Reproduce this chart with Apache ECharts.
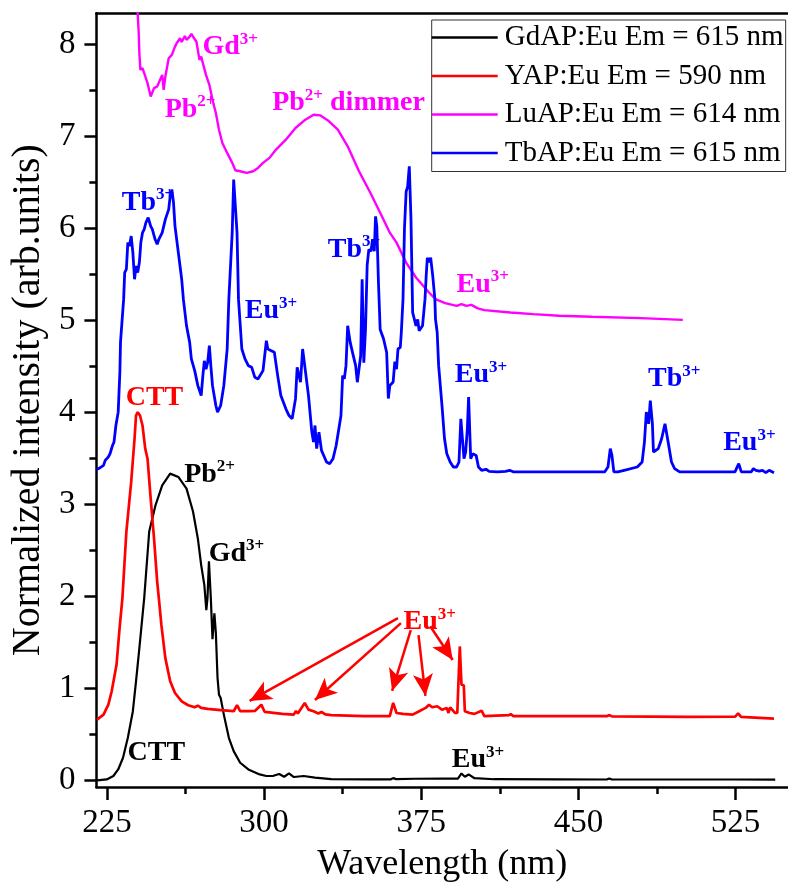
<!DOCTYPE html>
<html><head><meta charset="utf-8">
<script src="https://cdn.jsdelivr.net/npm/echarts@6/dist/echarts.min.js"></script>
<style>html,body{margin:0;padding:0;background:#fff}#c{width:788px;height:888px}</style>
</head><body><div id="c"></div>
<script>
const FONT = '"Liberation Serif","Times New Roman",serif';
const xTicks = [225, 300, 375, 450, 525];
const xMinorTicks = [262.5, 337.5, 412.5, 487.5];
const yTicks = [0, 1, 2, 3, 4, 5, 6, 7, 8];
const yMinorTicks = [0.5, 1.5, 2.5, 3.5, 4.5, 5.5, 6.5, 7.5];
const seriesNames = ['GdAP:Eu Em = 615 nm', 'YAP:Eu Em = 590 nm', 'LuAP:Eu Em = 614 nm', 'TbAP:Eu Em = 615 nm'];
const seriesColors = ['#000000', '#ff0000', '#ff00ff', '#0000ff'];

const gdapData = [[220.3,0.0],[224.9,0.011],[228.1,0.048],[230.4,0.119],[232.7,0.246],[235.0,0.463],[237.4,0.752],[238.9,1.077],[240.5,1.438],[242.8,1.979],[245.2,2.705],[248.2,2.99],[251.4,3.207],[255.2,3.334],[259.1,3.298],[263.0,3.171],[266.1,2.922],[268.4,2.629],[270.0,2.34],[271.5,2.124],[272.45,1.85],[273.0,1.98],[273.7,2.38],[274.6,1.98],[275.4,1.535],[276.3,1.817],[277.0,1.6],[277.8,1.113],[278.5,0.932],[279.3,0.896],[280.8,0.715],[283.2,0.463],[285.5,0.318],[288.6,0.192],[292.5,0.119],[297.9,0.065],[301.1,0.048],[304.5,0.05],[307.2,0.07],[309.6,0.04],[311.9,0.076],[314.2,0.037],[318.9,0.048],[324.3,0.03],[332,0.015],[350,0.012],[360.5,0.012],[361.6,0.025],[363,0.014],[372,0.018],[385,0.02],[392.5,0.02],[394.2,0.076],[395.8,0.04],[397.6,0.065],[400.4,0.024],[409.7,0.013],[440,0.012],[463.5,0.01],[464.7,0.022],[466,0.01],[500,0.01],[525,0.01],[543.9,0.008]];

const yapData = [[220.3,0.661],[223.4,0.715],[225.7,0.823],[227.3,0.969],[229.6,1.257],[231.2,1.69],[232.4,1.979],[234.3,2.702],[236.6,3.244],[238.2,3.713],[238.9,3.965],[239.7,4.002],[240.8,3.965],[242.0,3.857],[243.3,3.605],[244.4,3.496],[245.9,3.063],[247.5,2.629],[249.0,2.16],[249.8,1.979],[251.0,1.69],[252.9,1.329],[255.2,1.077],[257.5,0.95],[260.7,0.86],[263.8,0.817],[266.9,0.795],[268.4,0.813],[270.0,0.788],[273.1,0.777],[279.3,0.763],[285.5,0.752],[287.1,0.817],[288.6,0.752],[293.3,0.752],[295.6,0.755],[298.7,0.823],[300.3,0.744],[308.8,0.723],[314.2,0.715],[315.2,0.755],[316.1,0.728],[319.4,0.842],[321.2,0.769],[323.6,0.752],[325.9,0.728],[327.4,0.744],[329.2,0.717],[332.1,0.709],[347.6,0.698],[360.0,0.698],[361.6,0.842],[363.2,0.733],[366.3,0.723],[370.9,0.715],[374.0,0.752],[377.1,0.788],[378.7,0.823],[380.2,0.795],[382.6,0.806],[384.9,0.769],[387.2,0.788],[388.0,0.733],[388.8,0.795],[391.1,0.733],[392.2,0.733],[393.4,1.456],[394.2,1.04],[395.3,1.034],[395.8,0.752],[398.1,0.733],[400.4,0.723],[403.8,0.758],[405.1,0.698],[416.7,0.709],[417.7,0.72],[419.0,0.698],[463.5,0.698],[464.8,0.71],[466,0.696],[502.7,0.69],[524.8,0.693],[526.2,0.728],[527.6,0.69],[543.3,0.672]];

const luapData = [[239.4,8.6],[239.7,8.336],[240.2,8.119],[240.5,7.902],[241.0,7.722],[242.0,7.74],[242.8,7.686],[244.4,7.577],[245.9,7.432],[247.5,7.523],[249.0,7.541],[249.8,7.559],[251.4,7.667],[252.1,7.505],[252.9,7.649],[254.5,7.848],[256.0,7.884],[257.5,7.974],[258.3,8.011],[259.9,8.065],[260.7,8.025],[262.2,8.09],[263.0,8.047],[264.5,8.082],[265.3,8.112],[266.6,8.065],[267.7,8.029],[269.2,7.83],[270.0,7.866],[270.8,7.794],[272.3,7.667],[273.9,7.559],[275.4,7.397],[277.0,7.252],[278.5,7.071],[280.1,6.927],[282.4,6.819],[284.8,6.711],[286.3,6.631],[288.6,6.62],[291.7,6.602],[294.8,6.62],[297.1,6.656],[299.5,6.711],[302.6,6.765],[305.7,6.855],[310.4,6.963],[315.0,7.09],[319.7,7.18],[323.6,7.234],[326.7,7.227],[330.5,7.172],[335.2,7.071],[339.9,6.891],[345.3,6.62],[350.7,6.386],[355.4,6.169],[360.0,5.952],[363.2,5.844],[367.8,5.627],[372.5,5.465],[378.7,5.302],[381.8,5.23],[386.4,5.186],[391.9,5.157],[394.2,5.175],[396.6,5.157],[398.9,5.168],[402.0,5.129],[405.1,5.11],[417.5,5.085],[428.4,5.067],[440.8,5.049],[456.4,5.038],[479.7,5.024],[499.8,5.005]];

const tbapData = [[220.1,3.38],[221.1,3.389],[221.9,3.37],[223.4,3.424],[224.2,3.478],[225.7,3.515],[226.5,3.55],[227.7,3.64],[228.4,3.677],[229.3,3.857],[230.4,4.002],[231.2,4.436],[231.5,4.76],[232.4,4.778],[233.0,5.23],[233.5,5.519],[234.3,5.555],[235.0,5.844],[235.8,5.807],[236.6,5.915],[237.4,5.736],[238.2,5.446],[238.9,5.59],[239.7,5.519],[240.5,5.627],[241.2,5.844],[242.0,5.952],[242.8,5.988],[243.6,6.06],[244.7,6.115],[245.9,6.024],[246.7,5.988],[248.0,5.88],[249.0,5.826],[249.8,5.88],[251.4,5.952],[252.9,6.097],[254.5,6.205],[255.2,6.349],[256.0,6.421],[256.8,6.277],[257.5,6.024],[259.1,5.736],[260.7,5.446],[261.5,5.23],[263.0,4.94],[264.5,4.76],[265.3,4.58],[266.9,4.453],[268.4,4.29],[270.0,4.182],[270.8,4.399],[271.5,4.56],[272.3,4.47],[273.1,4.543],[273.9,4.724],[274.6,4.507],[275.4,4.29],[277.0,4.074],[277.8,4.002],[279.3,4.074],[280.8,4.29],[282.4,4.688],[283.2,5.23],[284.8,5.952],[285.5,6.53],[286.3,6.548],[287.1,5.952],[287.8,5.23],[289.4,4.688],[290.9,4.58],[292.5,4.507],[294.1,4.489],[295.6,4.38],[297.1,4.363],[299.5,4.453],[301.1,4.778],[301.8,4.688],[303.4,4.67],[304.9,4.652],[306.5,4.399],[308.0,4.182],[310.4,4.038],[311.9,3.965],[313.4,3.93],[315.0,4.146],[315.8,4.489],[316.6,4.47],[317.4,4.327],[318.4,4.688],[319.4,4.507],[321.2,4.182],[322.8,3.785],[323.6,3.677],[324.3,3.857],[325.1,3.605],[326.2,3.785],[327.4,3.586],[329.8,3.46],[331.3,3.442],[332.9,3.496],[334.4,3.64],[336.7,3.965],[337.5,4.399],[338.3,4.363],[339.1,4.507],[339.9,4.94],[341.1,4.76],[342.2,4.652],[343.7,4.507],[344.5,4.327],[346.1,4.615],[346.8,5.446],[347.6,4.54],[348.4,4.9],[349.2,5.6],[350.0,5.77],[351.0,5.75],[351.8,5.88],[352.6,5.75],[353.2,6.13],[353.8,6.02],[354.6,5.4],[355.4,4.9],[357.0,4.8],[358.5,4.65],[359.3,4.15],[360.0,4.29],[361.6,4.33],[362.4,4.55],[363.2,4.47],[363.9,4.688],[365.0,4.706],[365.5,4.87],[366.3,5.23],[367.0,6.0],[367.8,6.4],[368.5,6.45],[369.3,6.674],[370.1,6.1],[370.9,5.086],[371.7,5.086],[372.5,4.94],[373.3,5.01],[374.0,4.886],[375.6,4.94],[376.8,5.23],[377.4,5.5],[377.9,5.68],[378.7,5.63],[379.5,5.68],[380.5,5.48],[381.5,5.23],[381.8,5.013],[382.6,4.87],[383.3,4.507],[384.9,4.074],[386.1,3.713],[387.2,3.55],[388.0,3.532],[388.8,3.46],[390.3,3.406],[391.9,3.406],[393.0,3.46],[393.9,3.93],[394.7,3.948],[395.4,3.496],[396.2,3.569],[397.0,3.821],[397.6,4.165],[398.6,3.496],[399.6,3.55],[400.4,3.569],[401.2,3.532],[402.3,3.406],[403.8,3.37],[405.9,3.381],[407.4,3.359],[411.3,3.352],[415.2,3.359],[417.2,3.37],[419.1,3.352],[425.2,3.352],[462.5,3.352],[464.1,3.406],[465.2,3.605],[466.0,3.532],[466.9,3.352],[468.8,3.352],[471.8,3.37],[478.1,3.406],[480.4,3.46],[481.5,3.677],[482.4,4.002],[483.5,3.875],[484.3,4.128],[485.3,3.875],[485.8,3.569],[486.6,3.55],[488.1,3.605],[489.7,3.713],[491.3,3.875],[492.8,3.677],[494.4,3.46],[495.9,3.388],[498.3,3.352],[524.7,3.352],[526.5,3.442],[527.7,3.352],[532.4,3.352],[533.5,3.388],[534.7,3.37],[536.3,3.36],[537.8,3.37],[539.4,3.344],[541.0,3.37],[543.3,3.344]];

// annotations: [x, y, series index (colour), main text, superscript, tail]
const annotations = [
  [270.6, 7.98, 2, 'Gd', '3+', ''],
  [252.6, 7.30, 2, 'Pb', '2+', ''],
  [303.9, 7.37, 2, 'Pb', '2+', ' dimmer'],
  [391.9, 5.40, 2, 'Eu', '3+', ''],
  [232.1, 6.29, 3, 'Tb', '3+', ''],
  [290.8, 5.11, 3, 'Eu', '3+', ''],
  [330.4, 5.78, 3, 'Tb', '3+', ''],
  [391.0, 4.417, 3, 'Eu', '3+', ''],
  [483.2, 4.374, 3, 'Tb', '3+', ''],
  [519.1, 3.68, 3, 'Eu', '3+', ''],
  [234.0, 4.173, 1, 'CTT', '', ''],
  [366.6, 1.735, 1, 'Eu', '3+', ''],
  [261.9, 3.334, 0, 'Pb', '2+', ''],
  [273.6, 2.478, 0, 'Gd', '3+', ''],
  [234.9, 0.311, 0, 'CTT', '', ''],
  [389.6, 0.235, 0, 'Eu', '3+', '']
];
// arrows: [startX, startY, tipX, tipY]
const arrows = [
  [363.9, 1.763, 293.1, 0.864],
  [365.3, 1.709, 324.3, 0.874],
  [370.0, 1.633, 361.1, 0.972],
  [373.7, 1.579, 377.0, 0.918],
  [379.3, 1.676, 390.0, 1.308]
];

const chart = echarts.init(document.getElementById('c'), null, {renderer: 'canvas'});
const lineWidths = [2.2, 2.7, 2.4, 2.8];
const datasets = [gdapData, yapData, luapData, tbapData];
const series = datasets.map((d, i) => ({
  name: seriesNames[i], type: 'line', data: d, symbol: 'none', showSymbol: false,
  xAxisIndex: 0, yAxisIndex: 0, z: 2 + i,
  lineStyle: {color: seriesColors[i], width: lineWidths[i]},
  itemStyle: {color: seriesColors[i]}
}));
series[1].markLine = {
  silent: true, animation: false, symbol: ['none', 'arrow'], symbolSize: [15, 22],
  label: {show: false},
  lineStyle: {color: '#ff0000', width: 2.5, type: 'solid', opacity: 1},
  itemStyle: {color: '#ff0000', opacity: 1},
  emphasis: {disabled: true},
  data: arrows.map(a => [{coord: [a[0], a[1]]}, {coord: [a[2], a[3]]}])
};
series.push({
  type: 'scatter', silent: true, symbolSize: 0.1, z: 10,
  itemStyle: {color: 'transparent', opacity: 1},
  data: annotations.map(a => ({
    value: [a[0], a[1]],
    label: {
      show: true, position: [0, 0], align: 'left', verticalAlign: 'middle',
      color: seriesColors[a[2]], opacity: 1,
      formatter: '{m|' + a[3] + '}' + (a[4] ? '{s|' + a[4] + '}' : '') + (a[5] ? '{m|' + a[5] + '}' : ''),
      rich: {
        m: {fontFamily: FONT, fontSize: 28, fontWeight: 'bold', color: seriesColors[a[2]], lineHeight: 30, verticalAlign: 'bottom'},
        s: {fontFamily: FONT, fontSize: 17, fontWeight: 'bold', color: seriesColors[a[2]], verticalAlign: 'top', lineHeight: 17}
      }
    }
  }))
});

const XMIN = 220, XMAX = 550, YMIN = -0.0715, YMAX = 8.336;
const axisLineStyle = {color: '#000', width: 2.5};
chart.setOption({
  animation: false,
  backgroundColor: '#fff',
  grid: {left: 93, top: 13.3, width: 708, height: 776, containLabel: false},
  legend: {
    orient: 'vertical', left: 431.7, top: 20,
    data: seriesNames.map(n => ({name: n, icon: 'rect'})),
    itemWidth: 66, itemHeight: 2.5, itemGap: 9.5,
    padding: [3, 2, 4, 0],
    borderColor: '#333', borderWidth: 1, backgroundColor: '#fff',
    selectedMode: false,
    textStyle: {fontFamily: FONT, fontSize: 29, color: '#000', lineHeight: 29, padding: [0, 0, 0, 2]}
  },
  xAxis: [
    {type: 'value', min: XMIN, max: XMAX, position: 'bottom',
     axisLine: {show: true, onZero: false, lineStyle: axisLineStyle},
     axisTick: {show: true, inside: false, length: 13, lineStyle: axisLineStyle, customValues: xTicks},
     axisLabel: {show: true, customValues: xTicks, fontFamily: FONT, fontSize: 33, color: '#000', margin: 20},
     splitLine: {show: false},
     name: 'Wavelength (nm)', nameLocation: 'middle', nameGap: 60,
     nameTextStyle: {fontFamily: FONT, fontSize: 36, color: '#000'}},
    {type: 'value', min: XMIN, max: XMAX, position: 'bottom',
     axisLine: {show: false, onZero: false},
     axisTick: {show: true, inside: false, length: 7, lineStyle: axisLineStyle, customValues: xMinorTicks},
     axisLabel: {show: false, customValues: xMinorTicks},
     splitLine: {show: false}},
    {type: 'value', min: XMIN, max: XMAX, position: 'top',
     axisLine: {show: true, onZero: false, lineStyle: axisLineStyle},
     axisTick: {show: false}, axisLabel: {show: false}, splitLine: {show: false}}
  ],
  yAxis: [
    {type: 'value', min: YMIN, max: YMAX, position: 'left',
     axisLine: {show: true, onZero: false, lineStyle: axisLineStyle},
     axisTick: {show: true, inside: false, length: 12, lineStyle: axisLineStyle, customValues: yTicks},
     axisLabel: {show: true, customValues: yTicks, fontFamily: FONT, fontSize: 33, color: '#000', margin: 21},
     splitLine: {show: false},
     name: 'Normalized intensity (arb.units)', nameLocation: 'middle', nameRotate: 90, nameGap: 45,
     nameTextStyle: {fontFamily: FONT, fontSize: 40, color: '#000'}},
    {type: 'value', min: YMIN, max: YMAX, position: 'left',
     axisLine: {show: false, onZero: false},
     axisTick: {show: true, inside: false, length: 7, lineStyle: axisLineStyle, customValues: yMinorTicks},
     axisLabel: {show: false, customValues: yMinorTicks},
     splitLine: {show: false}}
  ],
  series: series
});
</script></body></html>
